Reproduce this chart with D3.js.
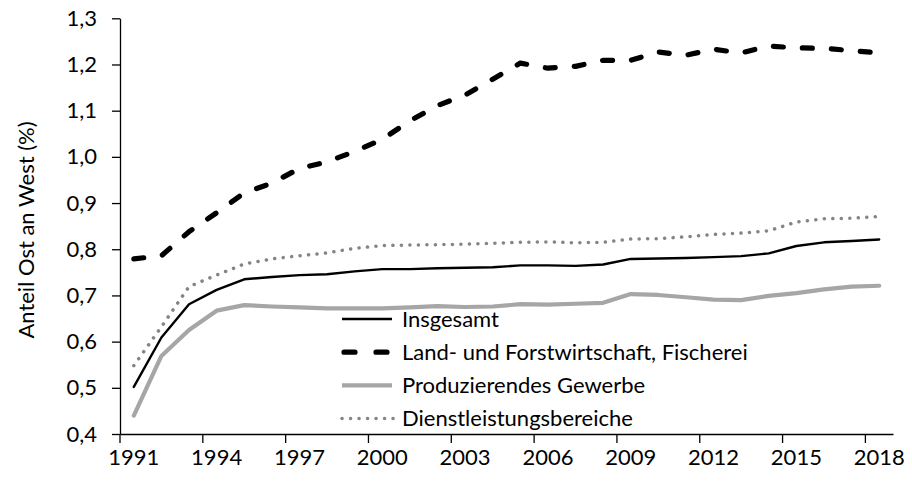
<!DOCTYPE html>
<html>
<head>
<meta charset="utf-8">
<script src="https://cdn.jsdelivr.net/npm/d3@7/dist/d3.min.js"></script>
<style>
  body { margin: 0; background: #fff; }
  svg { display: block; }
  text { font-family: Lato, "Open Sans", sans-serif; }
</style>
</head>
<body>
<svg id="chart" width="912" height="481"></svg>
<script>
const years = d3.range(1991, 2019);
const tickYears = [1991, 1994, 1997, 2000, 2003, 2006, 2009, 2012, 2015, 2018];
const yTicks = [0.4, 0.5, 0.6, 0.7, 0.8, 0.9, 1.0, 1.1, 1.2, 1.3];

const insgesamt = [0.502, 0.609, 0.681, 0.712, 0.735, 0.740, 0.744, 0.746, 0.752, 0.757,
  0.757, 0.759, 0.760, 0.761, 0.765, 0.765, 0.764, 0.767, 0.779, 0.780,
  0.781, 0.783, 0.785, 0.791, 0.807, 0.815, 0.818, 0.821];
const landForst = [0.779, 0.786, 0.838, 0.879, 0.922, 0.943, 0.975, 0.989, 1.012, 1.038,
  1.078, 1.111, 1.134, 1.168, 1.203, 1.192, 1.196, 1.209, 1.209, 1.227,
  1.220, 1.233, 1.225, 1.240, 1.236, 1.235, 1.230, 1.225];
const produzierend = [0.440, 0.569, 0.625, 0.667, 0.679, 0.676, 0.674, 0.672, 0.672, 0.672,
  0.674, 0.677, 0.675, 0.676, 0.681, 0.680, 0.682, 0.684, 0.703, 0.701,
  0.696, 0.691, 0.690, 0.699, 0.705, 0.713, 0.719, 0.721];
const dienst = [0.548, 0.632, 0.719, 0.744, 0.768, 0.779, 0.786, 0.792, 0.802, 0.808,
  0.809, 0.810, 0.811, 0.813, 0.815, 0.816, 0.814, 0.815, 0.822, 0.823,
  0.827, 0.832, 0.835, 0.840, 0.859, 0.866, 0.867, 0.871];

const seriesNames = ["Insgesamt", "Land- und Forstwirtschaft, Fischerei", "Produzierendes Gewerbe", "Dienstleistungsbereiche"];
const seriesValues = [insgesamt, landForst, produzierend, dienst];

const styles = [
  { stroke: "#000000", width: 2.4, dash: null },
  { stroke: "#000000", width: 5.2, dash: "10,19" },
  { stroke: "#a6a6a6", width: 4.2, dash: null },
  { stroke: "#858585", width: 3.5, dash: "0.1,8.4" }
];

const FS = 22;
const svg = d3.select("#chart");
const x = d3.scaleBand().domain(years).range([120, 893]).paddingInner(0).paddingOuter(0);
const y = d3.scaleLinear().domain([0.4, 1.3]).range([434, 18.3]);
const cx = d => x(d) + x.bandwidth() / 2;
const fmt = v => d3.format(".1f")(v).replace(".", ",");

// Y axis
const yAxis = svg.append("g").attr("transform", "translate(120,0)")
  .call(d3.axisLeft(y).tickValues(yTicks).tickFormat(fmt).tickSize(8).tickSizeOuter(0).tickPadding(15));
yAxis.select(".domain").attr("stroke", "#000").attr("stroke-width", 1.3);
yAxis.selectAll(".tick line").attr("stroke", "#000").attr("stroke-width", 1.3);
yAxis.selectAll("text").attr("font-size", FS).attr("fill", "#000").attr("font-family", "Lato, sans-serif");

// X axis
const xAxis = svg.append("g").attr("transform", "translate(0,434)")
  .call(d3.axisBottom(x).tickValues(tickYears).tickSize(0).tickSizeOuter(0).tickPadding(15));
xAxis.select(".domain").attr("stroke", "#000").attr("stroke-width", 1.3);
xAxis.selectAll("text").attr("font-size", FS).attr("fill", "#000").attr("font-family", "Lato, sans-serif");
svg.append("g").selectAll("line").data(tickYears).join("line")
  .attr("x1", d => x(d)).attr("x2", d => x(d))
  .attr("y1", 434).attr("y2", 443)
  .attr("stroke", "#000").attr("stroke-width", 1.3);

// Y title
svg.append("text")
  .attr("transform", "translate(34,230) rotate(-90)")
  .attr("text-anchor", "middle")
  .attr("font-size", FS)
  .attr("fill", "#000")
  .text("Anteil Ost an West (%)");

// Lines
const line = d3.line().x((d, i) => cx(years[i])).y(d => y(d));
const order = [2, 3, 0, 1];
order.forEach(k => {
  const s = styles[k];
  svg.append("path")
    .datum(seriesValues[k])
    .attr("d", line)
    .attr("fill", "none")
    .attr("stroke", s.stroke)
    .attr("stroke-width", s.width)
    .attr("stroke-linecap", "round")
    .attr("stroke-linejoin", "round")
    .attr("stroke-dasharray", s.dash);
});

// Legend
const legend = svg.append("g").attr("transform", "translate(342,319)");
seriesNames.forEach((name, i) => {
  const s = styles[i];
  const g = legend.append("g").attr("transform", `translate(0,${i * 33.2})`);
  g.append("line")
    .attr("x1", i === 1 ? 2 : 0).attr("x2", i === 3 ? 55 : 50)
    .attr("y1", 0).attr("y2", 0)
    .attr("stroke", s.stroke)
    .attr("stroke-width", s.width)
    .attr("stroke-linecap", i === 0 || i === 2 ? "butt" : "round")
    .attr("stroke-dasharray", i === 1 ? "11,21" : s.dash);
  g.append("text")
    .attr("x", 60).attr("y", 0)
    .attr("dy", "0.35em")
    .attr("font-size", FS)
    .attr("fill", "#000")
    .text(name);
});
</script>
</body>
</html>
